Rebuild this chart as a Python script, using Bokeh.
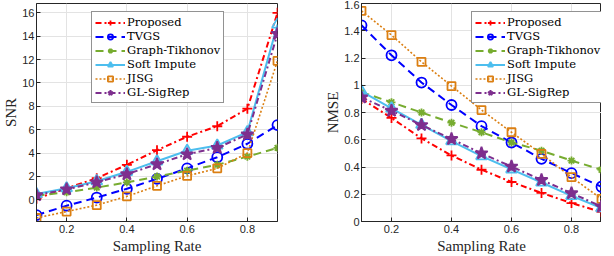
from bokeh.plotting import figure
from bokeh.layouts import row
from bokeh.models import FixedTicker, CustomJSTickFormatter, Range1d, Legend, LegendItem
from bokeh.embed import file_html
from bokeh.resources import INLINE

sampling_rate = [0.1, 0.2, 0.3, 0.4, 0.5, 0.6, 0.7, 0.8, 0.9]
methods = ["Proposed", "TVGS", "Graph-Tikhonov", "Soft Impute", "JISG", "GL-SigRep"]

snr_proposed = [0.1, 1.0, 1.85, 3.0, 4.25, 5.4, 6.3, 7.8, 16.0]
snr_tvgs = [-1.3, -0.5, 0.2, 0.95, 1.8, 2.7, 3.65, 4.8, 6.4]
snr_tikhonov = [0.35, 0.65, 1.05, 1.5, 2.0, 2.5, 3.0, 3.7, 4.45]
snr_softimpute = [0.5, 1.0, 1.6, 2.4, 3.3, 4.2, 4.65, 5.8, 15.0]
snr_jisg = [-1.55, -1.0, -0.45, 0.3, 1.2, 2.05, 2.7, 4.0, 11.9]
snr_glsigrep = [0.4, 0.9, 1.5, 2.2, 3.05, 3.9, 4.45, 5.6, 14.2]

nmse_proposed = [0.90, 0.76, 0.61, 0.485, 0.38, 0.29, 0.21, 0.135, 0.07]
nmse_tvgs = [1.44, 1.22, 1.02, 0.855, 0.70, 0.58, 0.46, 0.355, 0.255]
nmse_tikhonov = [0.95, 0.875, 0.80, 0.725, 0.655, 0.58, 0.52, 0.447, 0.38]
nmse_softimpute = [0.955, 0.83, 0.71, 0.59, 0.48, 0.383, 0.286, 0.188, 0.098]
nmse_jisg = [1.546, 1.368, 1.172, 0.994, 0.818, 0.655, 0.496, 0.325, 0.166]
nmse_glsigrep = [0.91, 0.813, 0.708, 0.606, 0.50, 0.403, 0.305, 0.208, 0.11]

x_ticks = [0.2, 0.4, 0.6, 0.8]
snr_ticks = [0, 2, 4, 6, 8, 10, 12, 14, 16]
nmse_ticks = [0, 0.2, 0.4, 0.6, 0.8, 1.0, 1.2, 1.4, 1.6]

styles = {
    "Proposed": dict(color="#FF0000", dash="6 3 2 3", width=2, marker="cross", size=10, fill=False),
    "TVGS": dict(color="#0000FF", dash="8 5", width=2, marker="circle", size=10, fill=False),
    "Graph-Tikhonov": dict(color="#77AC30", dash="8 5", width=2, marker="asterisk", size=8, fill=False),
    "Soft Impute": dict(color="#4DBEEE", dash="solid", width=2, marker="triangle", size=11, fill=False),
    "JISG": dict(color="#DB7F12", dash="2 2", width=1.6, marker="square", size=8, fill=False),
    "GL-SigRep": dict(color="#7E2F8E", dash="6 3 2 3", width=2, marker="star", size=13, fill=True),
}

AX = "#262626"
SANS = "Liberation Sans"
LABEL_FONT = "Liberation Serif"
LEGEND_FONT = "DejaVu Serif"
fmt = CustomJSTickFormatter(code="return String(Number(tick.toFixed(2)));")


def make_plot(series, yticks, yrange, ylabel, fw, fh, border_left, border_right, legend_loc):
    p = figure(frame_width=fw, frame_height=fh, output_backend="svg", toolbar_location=None,
               x_range=Range1d(0.1, 0.9), y_range=Range1d(*yrange),
               min_border_left=border_left, min_border_right=border_right,
               min_border_top=3, min_border_bottom=2)
    p.outline_line_color = AX
    p.outline_line_alpha = 1.0
    p.background_fill_color = "white"
    p.border_fill_color = "white"
    for ax in (p.xaxis[0], p.yaxis[0]):
        ax.axis_line_color = AX
        ax.major_tick_line_color = AX
        ax.major_tick_in = 4
        ax.major_tick_out = 0
        ax.minor_tick_line_color = None
        ax.major_label_text_font = SANS
        ax.major_label_text_font_size = "11px"
        ax.major_label_text_color = AX
        ax.axis_label_text_font = LABEL_FONT
        ax.axis_label_text_font_size = "15px"
        ax.axis_label_text_font_style = "normal"
        ax.axis_label_text_color = AX
        ax.major_label_standoff = 3
        ax.axis_label_standoff = 2
        ax.formatter = fmt
    p.yaxis[0].major_label_standoff = 2
    p.yaxis[0].axis_label_standoff = 0
    p.xaxis[0].ticker = FixedTicker(ticks=x_ticks)
    p.yaxis[0].ticker = FixedTicker(ticks=yticks)
    p.xaxis[0].axis_label = "Sampling Rate"
    p.yaxis[0].axis_label = ylabel
    p.xgrid.grid_line_color = "#E3E3E3"
    p.ygrid.grid_line_color = "#E3E3E3"

    items = []
    for name, ys in zip(methods, series):
        s = styles[name]
        ln = p.line(sampling_rate, ys, line_color=s["color"], line_width=s["width"], line_dash=s["dash"])
        sc = p.scatter(sampling_rate, ys, marker=s["marker"], size=s["size"], line_color=s["color"],
                       line_width=1.8, fill_color=s["color"], fill_alpha=1.0 if s["fill"] else 0.0)
        items.append(LegendItem(label=name, renderers=[ln, sc]))
    leg = Legend(items=items, location=legend_loc)
    leg.label_text_font = LEGEND_FONT
    leg.label_text_font_size = "11.5px"
    leg.label_text_font_style = "normal"
    leg.label_text_color = "#000000"
    leg.label_height = 13
    leg.glyph_height = 13
    leg.glyph_width = 30
    leg.label_standoff = 2
    leg.spacing = 0
    leg.padding = 3
    leg.margin = 0
    leg.border_line_color = AX
    leg.border_line_width = 1
    leg.background_fill_color = "white"
    leg.background_fill_alpha = 1.0
    p.add_layout(leg, "center")
    return p


p1 = make_plot([snr_proposed, snr_tvgs, snr_tikhonov, snr_softimpute, snr_jisg, snr_glsigrep],
               snr_ticks, (-1.85, 16.8), "SNR", 241, 218, 30, 18, (55, 118))
p2 = make_plot([nmse_proposed, nmse_tvgs, nmse_tikhonov, nmse_softimpute, nmse_jisg, nmse_glsigrep],
               nmse_ticks, (0, 1.6), "NMSE", 240, 218, 66, 0, (110, 118))

layout = row(p1, p2)
open("out.html", "w").write(file_html(layout, INLINE))
